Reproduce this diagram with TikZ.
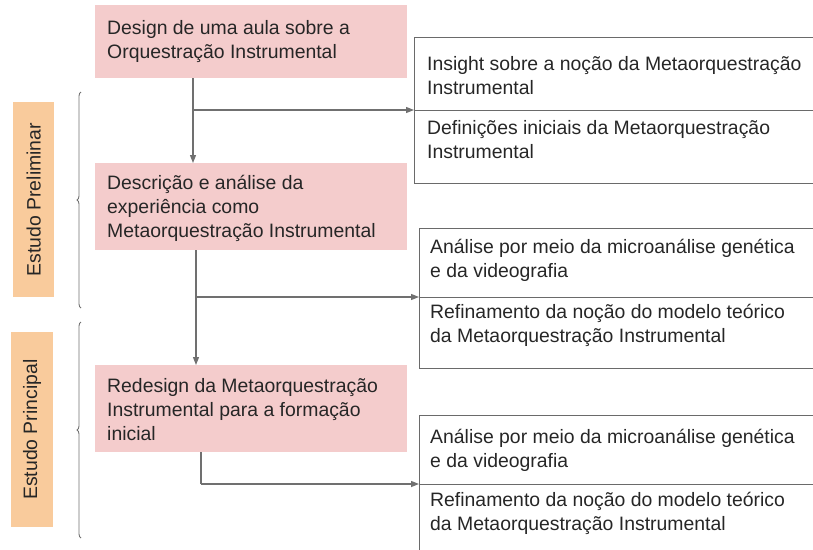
\documentclass[tikz,border=0pt]{standalone}
\usepackage{fontspec}
\setmainfont{Liberation Sans}
\usetikzlibrary{arrows.meta,decorations.pathreplacing}
\definecolor{pinkbox}{HTML}{F4CCCC}
\definecolor{orangebox}{HTML}{F9CB9C}
\definecolor{conngray}{HTML}{707070}
\definecolor{cellgray}{HTML}{6A6A6A}
\definecolor{txt}{HTML}{262626}
\begin{document}
\begin{tikzpicture}[x=1pt,y=-1pt,
  every node/.style={font=\fontsize{19.4}{23.6}\selectfont, text=txt},
  pinkbox/.style={fill=pinkbox, draw=none, anchor=north west, inner sep=0pt},
  orangebox/.style={fill=orangebox, draw=none, anchor=north west, inner sep=0pt},
  cellbox/.style={draw=cellgray, line width=1pt, anchor=north west, inner sep=0pt},
  boxtext/.style={anchor=base west, align=left, inner sep=0pt},
  conn/.style={draw=conngray, line width=1.3pt},
  arr/.style={conn, -{Triangle[length=8pt,width=6pt]}},
  bracestyle/.style={draw=conngray, line width=0.9pt, decorate, decoration={brace, amplitude=4pt}},
  sidelabel/.style={rotate=90, inner sep=0pt}
]
\useasboundingbox (0,0) rectangle (813,549);
\clip (0,0) rectangle (813,549);

% pink process boxes
\node[pinkbox, minimum width=312pt, minimum height=73pt] (p1) at (95,5) {};
\node[pinkbox, minimum width=312pt, minimum height=87pt] (p2) at (95,163) {};
\node[pinkbox, minimum width=312pt, minimum height=87pt] (p3) at (95,365) {};
\node[boxtext] (t1) at (107,58) {Design de uma aula sobre a\\Orquestração Instrumental};
\node[boxtext] (t2) at (107,237) {Descrição e análise da\\experiência como\\Metaorquestração Instrumental};
\node[boxtext] (t3) at (107,440) {Redesign da Metaorquestração\\Instrumental para a formação\\inicial};

% right outcome cells
\node[cellbox, minimum width=402pt, minimum height=73pt] (r1a) at (414,37) {};
\node[cellbox, minimum width=402pt, minimum height=73pt] (r1b) at (414,110) {};
\node[cellbox, minimum width=397pt, minimum height=69pt] (r2a) at (419,228) {};
\node[cellbox, minimum width=397pt, minimum height=71pt] (r2b) at (419,297) {};
\node[cellbox, minimum width=397pt, minimum height=69pt] (r3a) at (419,415) {};
\node[cellbox, minimum width=397pt, minimum height=80pt] (r3b) at (419,484) {};
\node[boxtext] (u1a) at (427,94) {Insight sobre a noção da Metaorquestração\\Instrumental};
\node[boxtext] (u1b) at (427,158) {Definições iniciais da Metaorquestração\\Instrumental};
\node[boxtext] (u2a) at (430,277) {Análise por meio da microanálise genética\\e da videografia};
\node[boxtext] (u2b) at (430,342) {Refinamento da noção do modelo teórico\\da Metaorquestração Instrumental};
\node[boxtext] (u3a) at (430,467) {Análise por meio da microanálise genética\\e da videografia};
\node[boxtext] (u3b) at (430,530) {Refinamento da noção do modelo teórico\\da Metaorquestração Instrumental};

% side labels
\node[orangebox, minimum width=41pt, minimum height=195pt] (o1) at (13,102) {};
\node[orangebox, minimum width=42pt, minimum height=195pt] (o2) at (11,332) {};
\node[sidelabel] (l1) at (o1.center) {Estudo Preliminar};
\node[sidelabel] (l2) at (o2.center) {Estudo Principal};

% braces
\coordinate (b1s) at (81,308);
\coordinate (b1e) at (81,92);
\coordinate (b2s) at (81,538);
\coordinate (b2e) at (81,322);
\draw[bracestyle] (b1s) -- (b1e);
\draw[bracestyle] (b2s) -- (b2e);

% connectors
\coordinate (j1) at (193,110);
\coordinate (j2) at (196,297);
\coordinate (j3) at (201,484);
\draw[arr] (p1.south -| j1) -- (p2.north -| j1);
\draw[arr] (j1) -- (j1 -| r1b.north west);
\draw[arr] (p2.south -| j2) -- (p3.north -| j2);
\draw[arr] (j2) -- (j2 -| r2b.north west);
\draw[conn] (p3.south -| j3) -- (j3);
\draw[arr] (j3) -- (j3 -| r3b.north west);
\end{tikzpicture}
\end{document}
